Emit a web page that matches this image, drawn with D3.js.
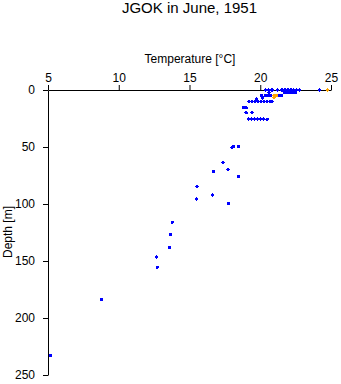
<!DOCTYPE html>
<html><head><meta charset="utf-8">
<script src="https://cdn.jsdelivr.net/npm/d3@7"></script>
<style>body{margin:0;background:#fff;} text{font-family:"Liberation Sans",Arial,sans-serif;}</style>
</head><body><div id="chart"></div>
<script>
const title = "JGOK in June, 1951";
const xLabel = "Temperature [°C]";
const yLabel = "Depth [m]";
const xTicks = [5, 10, 15, 20, 25];
const yTicks = [0, 50, 100, 150, 200, 250];

// blue series: temperature, depth
const blueTemp = [20.37,20.6,20.83,21.22,21.54,21.75,21.96,22.17,22.35,22.56,22.76,24.19,
  20.62,21.71,21.93,22.14,22.35,22.49,
  20.09,20.37,20.58,20.72,21.36,21.5,
  20.18,19.75,
  19.2,19.42,19.63,19.84,20.05,20.27,20.48,20.69,20.83,
  18.82,19.0,
  19.0,19.42,
  19.17,19.38,19.59,19.81,20.02,20.23,20.48,
  18.48,18.0,18.1,17.37,17.72,16.68,18.45,15.53,16.61,15.48,17.77,
  13.78,13.67,13.57,12.65,12.72,8.77,5.16];
const blueDepth = [0,0,0,0,0,0,0,0,0,0,0,0,
  2,2,2,2,2,2,
  5,5,5,5,5,5,
  7,8,
  10,10,10,10,10,10,10,10,10,
  15.5,15.5,
  20,20,
  25.5,25.5,25.5,25.5,25.5,25.5,25.5,
  49.4,50.5,49.5,63.5,69.6,71.3,75.7,84.5,92.1,95.6,99.4,
  116,126.6,138,146.5,155.5,183.6,233];
// orange series
const orangeTemp = [24.77, 20.97, 21.15, 20.97];
const orangeDepth = [0, 5, 5, 6.5];

const W = 341, H = 384;
const svg = d3.select("#chart").append("svg").attr("width", W).attr("height", H);
const x = d3.scaleLinear().domain([5, 25]).range([48, 331]);
const y = d3.scaleLinear().domain([0, 250]).range([90, 375]);

svg.append("text").attr("x", 189.5).attr("y", 13).attr("text-anchor", "middle")
  .attr("font-size", 15).text(title);
svg.append("text").attr("x", 190).attr("y", 63).attr("text-anchor", "middle")
  .attr("font-size", 12).text(xLabel);
svg.append("text").attr("transform", "translate(12,232) rotate(-90)").attr("text-anchor", "middle")
  .attr("font-size", 12).text(yLabel);

const xAxis = svg.append("g").attr("transform", "translate(0,90)")
  .call(d3.axisTop(x).tickValues(xTicks).tickSize(5).tickSizeOuter(0).tickPadding(3).tickFormat(d3.format("d")));
const yAxis = svg.append("g").attr("transform", "translate(48,0)")
  .call(d3.axisLeft(y).tickValues(yTicks).tickSize(5).tickSizeOuter(0).tickPadding(8).tickFormat(d3.format("d")));
[xAxis, yAxis].forEach(a => {
  a.selectAll("text").attr("font-size", 12).attr("font-family", "Liberation Sans, Arial, sans-serif").attr("fill", "#000");
  a.selectAll("line").attr("stroke", "#000");
  a.select(".domain").attr("stroke", "#000");
});

const blue = blueTemp.map((t, i) => ({t, d: blueDepth[i]}));
const orange = orangeTemp.map((t, i) => ({t, d: orangeDepth[i]}));
svg.append("g").selectAll("circle").data(blue).join("circle")
  .attr("cx", p => x(p.t)).attr("cy", p => y(p.d)).attr("r", 1.7).attr("fill", "#0000ff")
  .attr("shape-rendering", "crispEdges");
svg.append("g").selectAll("circle").data(orange).join("circle")
  .attr("cx", p => x(p.t)).attr("cy", p => y(p.d)).attr("r", 1.7).attr("fill", "#ffa500")
  .attr("shape-rendering", "crispEdges");
</script></body></html>
